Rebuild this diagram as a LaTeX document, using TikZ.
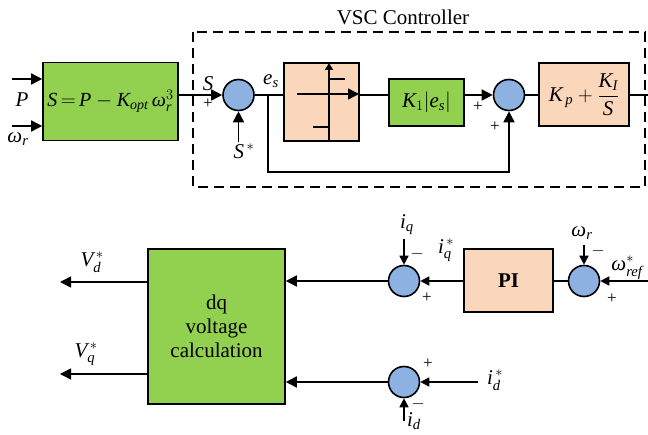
\documentclass[tikz,border=0pt]{standalone}
\usepackage{amsmath}
\usepackage{fontspec}
\setmainfont{Liberation Serif}
\usetikzlibrary{arrows.meta,calc}
\definecolor{gfill}{RGB}{146,208,80}
\definecolor{pfill}{RGB}{250,214,186}
\definecolor{bfill}{RGB}{141,178,226}
\newcommand{\iv}[1]{\textit{#1}}
\begin{document}
\begin{tikzpicture}[x=1pt,y=-1pt,
  line width=1.6pt,
  font=\fontsize{21}{24}\selectfont,
  arr/.style={-{Triangle[length=11pt,width=11pt]}},
  sarr/.style={-{Triangle[length=9pt,width=9pt]}},
  gbox/.style={draw,fill=gfill,inner sep=0pt},
  pbox/.style={draw,fill=pfill,inner sep=0pt},
  sumc/.style={draw,circle,fill=bfill,minimum size=31pt,inner sep=0pt},
  sgn/.style={font=\fontsize{17}{20}\selectfont,inner sep=0pt},
  lbl/.style={inner sep=0pt}]
\useasboundingbox (0,0) rectangle (648,435);
% dashed controller box
\draw[dashed,dash pattern=on 10pt off 6pt] (193,32) rectangle (645,187);
\node[lbl] (vsc) at (403,17) {VSC Controller};
% top row
\node[gbox,minimum width=135pt,minimum height=78pt,font=\fontsize{20}{24}\selectfont] (f) at (110.5,101.5)
  {$\iv{S}\,{=}\,\iv{P} - \iv{K}_{\iv{opt}}\,\iv{ω}_{\iv{r}}^{3}$};
\node[sumc] (s1) at (238.5,95) {};
\node[pbox,minimum width=75pt,minimum height=78pt] (sat) at (321.5,102) {};
\node[gbox,minimum width=75pt,minimum height=47pt] (k1) at (426.5,102.5)
  {$\iv{K}_{1}\lvert \iv{e}_{\iv{s}}\rvert$};
\node[sumc] (s2) at (509,95) {};
\node[pbox,minimum width=90pt,minimum height=63pt] (kp) at (584,94.5)
  {$\iv{K}_{\,\iv{p}} + \dfrac{\iv{K}_{\iv{I}}}{\iv{S}}$};
\coordinate (pin) at (12,79);
\coordinate (win) at (12,126);
\coordinate (sst) at (238.5,142);
\coordinate (br) at (268,95);
\coordinate (out) at (648,95);
\draw[arr] (pin) -- (pin -| f.west);
\draw[arr] (win) -- (win -| f.west);
\draw[arr] (s1 -| f.east) -- (s1.west);
\draw[arr] (sst) -- (s1.south);
\draw (s1.east) -- (s1 -| sat.west);
\draw (s1 -| sat.east) -- (s1 -| k1.west);
\draw[arr] (s2 -| k1.east) -- (s2.west);
\draw (s2.east) -- (s2 -| kp.west);
\draw (s2 -| kp.east) -- (out);
\draw[arr] (br) -- (268,172) -| (s2.south);
% saturation glyph
\draw[arr] (297,94) -- (359,94);
\draw[-{Triangle[length=7pt,width=8pt]}] (329,141) -- (329,63);
\draw (329,79) -- (345,79);
\draw (313,127) -- (329,127);
% labels top
\node[lbl] at (22,100) {$\iv{P}$};
\node[lbl] at (18,139) {$\iv{ω}_{\iv{r}}$};
\node[lbl] at (208,84) {$\iv{S}$};
\node[sgn] at (208,104) {+};
\node[lbl] at (244,151) {$\iv{S}^{\,*}$};
\node[lbl] at (271,81) {$\iv{e}_{\iv{s}}$};
\node[sgn] at (478,107) {+};
\node[sgn] at (495,127) {+};
% bottom row
\node[gbox,minimum width=137pt,minimum height=155pt,align=center] (dq) at (216.5,326.5)
  {dq\\voltage\\calculation};
\node[sumc] (s3) at (404,281) {};
\node[sumc] (s4) at (404,382) {};
\node[pbox,minimum width=89pt,minimum height=63pt,font=\fontsize{21}{24}\selectfont\bfseries] (pi) at (508.5,280.5) {PI};
\node[sumc] (s5) at (584,281) {};
\coordinate (vd) at (60,282);
\coordinate (vq) at (60,374);
\coordinate (wref) at (648,281);
\coordinate (wr) at (584,245);
\coordinate (iq) at (404,239);
\coordinate (ids) at (478,382);
\coordinate (id) at (404,421);
\draw[arr] (vd -| dq.west) -- (vd);
\draw[arr] (vq -| dq.west) -- (vq);
\draw[arr] (s3.west) -- (s3 -| dq.east);
\draw[arr] (s4.west) -- (s4 -| dq.east);
\draw[sarr] (wref) -- (s5.east);
\draw[sarr] (wr) -- (s5.north);
\draw (s5.west) -- (s5 -| pi.east);
\draw[sarr] (s3 -| pi.west) -- (s3.east);
\draw[sarr] (iq) -- (s3.north);
\draw[sarr] (ids) -- (s4.east);
\draw[sarr] (id) -- (s4.south);
% labels bottom
\node[lbl] at (92,262) {$\iv{V}_{\iv{d}}^{\,*}$};
\node[lbl] at (86,354) {$\iv{V}_{\iv{q}}^{\,*}$};
\node[lbl] at (407,225) {$\iv{i}_{\iv{q}}$};
\node[sgn] at (417,254) {$-$};
\node[lbl] at (446,250) {$\iv{i}_{\iv{q}}^{\,*}$};
\node[sgn] at (427,298) {+};
\node[lbl] at (582,233) {$\iv{ω}_{\iv{r}}$};
\node[sgn] at (598,251) {$-$};
\node[lbl] at (627,268) {$\iv{ω}_{\iv{ref}}^{*}$};
\node[sgn] at (612,299) {+};
\node[sgn] at (428,364) {+};
\node[lbl] at (495,380) {$\iv{i}_{\iv{d}}^{\,*}$};
\node[sgn] at (418,404) {$-$};
\node[lbl] at (414,421) {$\iv{i}_{\iv{d}}$};
\end{tikzpicture}
\end{document}
